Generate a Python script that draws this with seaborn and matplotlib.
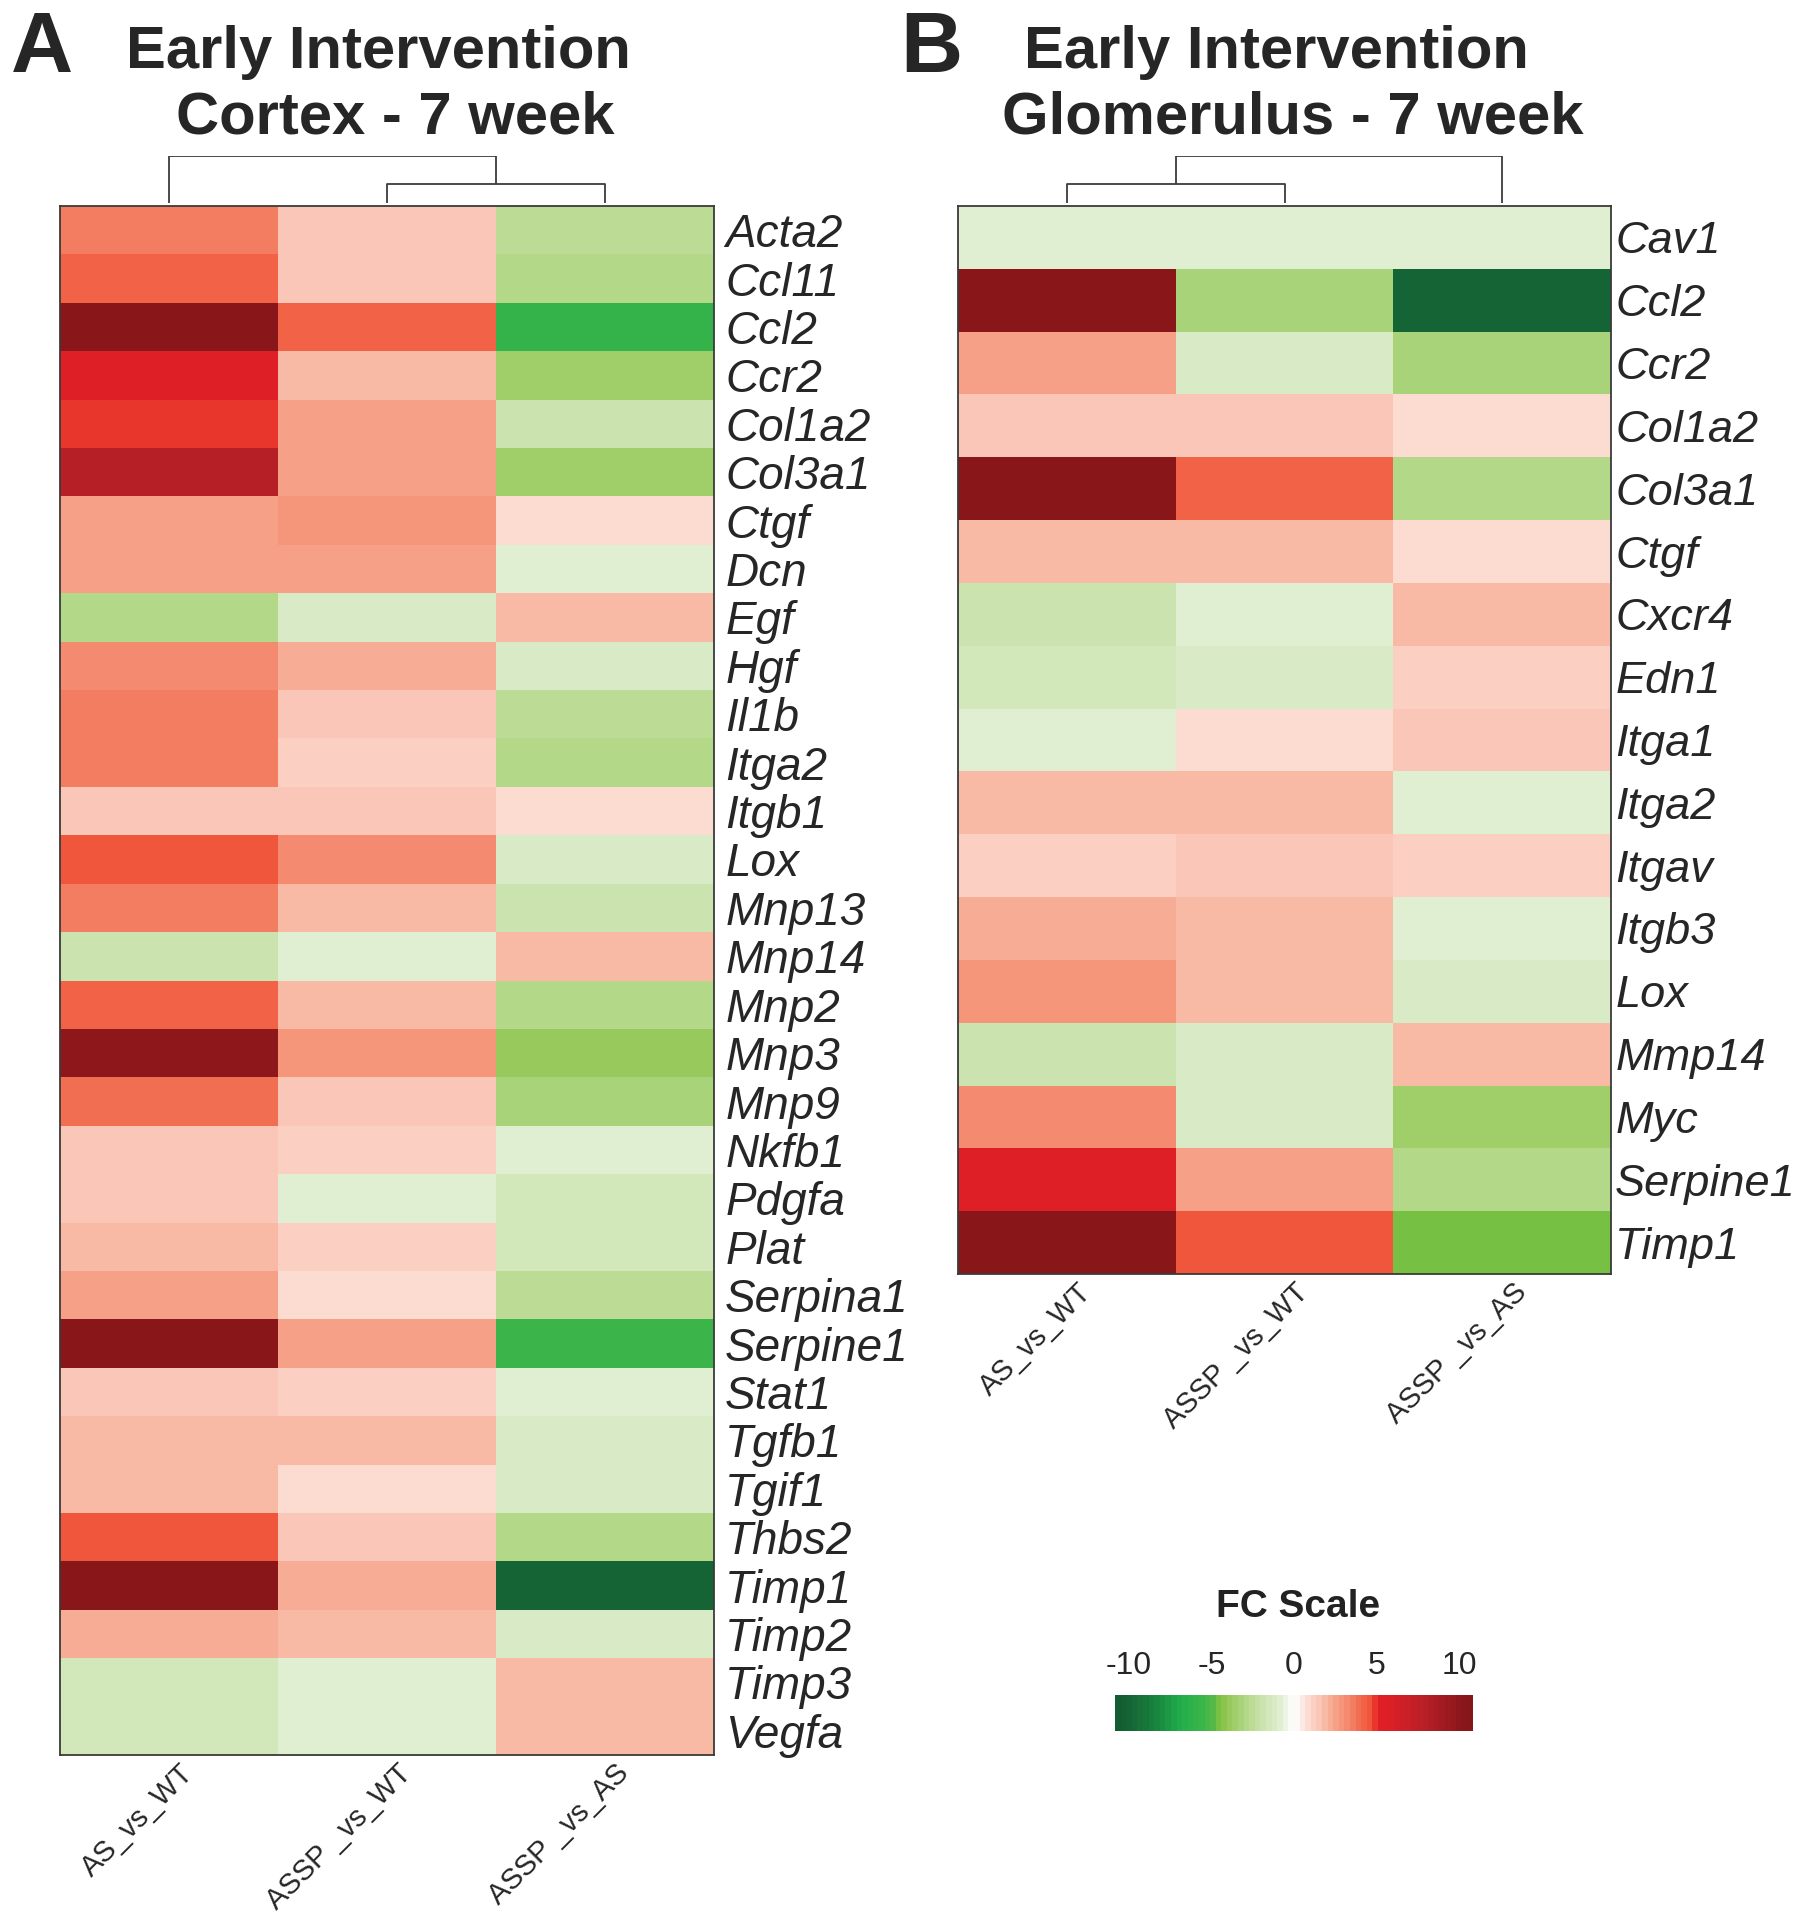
import numpy as np
import pandas as pd
import matplotlib
matplotlib.use("Agg")
import matplotlib.pyplot as plt
import matplotlib.transforms as mtransforms
from matplotlib.colors import LinearSegmentedColormap
import seaborn as sns

'''DATA'''
comparisons = ["AS_vs_WT", "ASSP _vs_WT", "ASSP _vs_AS"]

cortex_genes = ["Acta2", "Ccl11", "Ccl2", "Ccr2", "Col1a2", "Col3a1", "Ctgf", "Dcn",
                "Egf", "Hgf", "Il1b", "Itga2", "Itgb1", "Lox", "Mnp13", "Mnp14",
                "Mnp2", "Mnp3", "Mnp9", "Nkfb1", "Pdgfa", "Plat", "Serpina1",
                "Serpine1", "Stat1", "Tgfb1", "Tgif1", "Thbs2", "Timp1", "Timp2",
                "Timp3", "Vegfa"]
cortex_as_vs_wt = [3.5, 4.2, 10.5, 5.5, 4.8, 8.0, 2.5, 2.5, -3.0, 3.3, 3.7, 3.5, 1.4,
                   4.7, 3.6, -2.0, 4.3, 10.0, 3.9, 1.5, 1.5, 2.0, 2.6, 10.5, 1.5, 2.0,
                   1.9, 4.6, 10.5, 2.1, -1.6, -1.6]
cortex_assp_vs_wt = [1.5, 1.5, 4.4, 2.0, 2.4, 2.7, 2.8, 2.6, -1.3, 2.3, 1.5, 1.1, 1.5,
                     3.3, 1.8, -0.8, 1.7, 3.0, 1.4, 1.2, -0.8, 1.1, 1.0, 2.4, 1.1, 1.7,
                     1.0, 1.6, 2.1, 1.8, -0.8, -0.8]
cortex_assp_vs_as = [-2.5, -3.0, -6.0, -3.5, -2.0, -3.5, 1.0, -0.7, 2.0, -1.3, -2.5,
                     -3.0, 1.0, -1.3, -2.0, 2.0, -2.8, -4.0, -3.1, -0.9, -1.5, -1.5,
                     -2.5, -5.5, -0.9, -1.1, -1.3, -3.0, -10.0, -1.1, 1.8, 1.8]

glom_genes = ["Cav1", "Ccl2", "Ccr2", "Col1a2", "Col3a1", "Ctgf", "Cxcr4", "Edn1",
              "Itga1", "Itga2", "Itgav", "Itgb3", "Lox", "Mmp14", "Myc", "Serpine1",
              "Timp1"]
glom_as_vs_wt = [-0.8, 10.5, 2.4, 1.4, 10.5, 1.8, -2.0, -1.5, -0.8, 1.9, 1.3, 2.2,
                 2.9, -2.0, 3.3, 5.6, 10.5]
glom_assp_vs_wt = [-0.8, -3.1, -1.3, 1.6, 4.1, 1.8, -0.9, -1.1, 0.9, 1.7, 1.6, 1.9,
                   2.0, -1.1, -1.1, 2.6, 4.6]
glom_assp_vs_as = [-0.8, -10.0, -3.2, 1.0, -3.0, 1.0, 1.8, 1.3, 1.4, -0.9, 1.2, -0.9,
                   -1.3, 1.7, -3.5, -2.8, -4.5]

# column clustering (left, right, height) - scipy style ids, n leaves first
cortex_merges = [(1, 2, 0.40), (0, 3, 1.0)]
glom_merges = [(0, 1, 0.40), (3, 2, 1.0)]

fc_ticks = [-10, -5, 0, 5, 10]

cortex = pd.DataFrame({comparisons[0]: cortex_as_vs_wt,
                       comparisons[1]: cortex_assp_vs_wt,
                       comparisons[2]: cortex_assp_vs_as}, index=cortex_genes)
glom = pd.DataFrame({comparisons[0]: glom_as_vs_wt,
                     comparisons[1]: glom_assp_vs_wt,
                     comparisons[2]: glom_assp_vs_as}, index=glom_genes)

'''STYLE'''
sns.set_style("white")
plt.rcParams['font.family'] = ['Liberation Sans', 'DejaVu Sans']

VMIN, VMAX = -10.85, 10.85
nodes = [(-10.85, "#125C31"), (-10.0, "#166636"), (-8.5, "#18843F"), (-7.0, "#21AD4B"),
         (-5.6, "#3DB54A"), (-5.0, "#55B947"), (-4.5, "#84C341"), (-4.0, "#97C95A"),
         (-3.5, "#A3CF6E"), (-3.0, "#B1D785"), (-2.5, "#BEDC98"), (-2.0, "#C9E2AA"),
         (-1.3, "#D7EAC3"), (-0.8, "#E1EED3"), (0.0, "#FFFFFF"), (1.0, "#FCD5C9"),
         (1.5, "#F9C8B9"), (2.0, "#F8B5A0"), (2.5, "#F6A38A"), (3.0, "#F59479"),
         (3.5, "#F38266"), (4.0, "#F26C50"), (4.5, "#F05C3F"), (4.95, "#EE4A32"),
         (5.05, "#E31E25"), (6.0, "#DB1F26"), (8.0, "#B91F26"), (10.3, "#8B171A"),
         (10.85, "#85161A")]
fc_cmap = LinearSegmentedColormap.from_list(
    "fc", [((v - VMIN) / (VMAX - VMIN), c) for v, c in nodes], N=64)

W, H = 1798, 1920
fig = plt.figure(figsize=(W / 100, H / 100), dpi=100)


def box(x0, y0, x1, y1):
    # pixel box (top-left origin) -> figure fraction rect
    return [x0 / W, 1 - y1 / H, (x1 - x0) / W, (y1 - y0) / H]


def draw_dendrogram(ax, merges, n):
    pos = {i: i + 0.5 for i in range(n)}
    hgt = {i: 0.0 for i in range(n)}
    for k, (a, b, h) in enumerate(merges):
        ax.plot([pos[a], pos[a], pos[b], pos[b]], [hgt[a], h, h, hgt[b]],
                color="#3c3c3c", lw=1.3, solid_capstyle="butt")
        pos[n + k] = (pos[a] + pos[b]) / 2
        hgt[n + k] = h
    ax.set_xlim(0, n)
    ax.set_ylim(0, 1.0)
    ax.axis("off")


def style_heatmap(ax, ypad, ysize):
    for s in ax.spines.values():
        s.set_visible(True)
        s.set_color("#3a3a3a")
        s.set_linewidth(1.3)
    ax.set_xlabel("")
    ax.set_ylabel("")
    ax.yaxis.tick_right()
    ax.tick_params(axis="y", length=0, pad=ypad, labelsize=ysize)
    ax.tick_params(axis="x", length=0, pad=3, labelsize=21)
    for t in ax.get_yticklabels():
        t.set_rotation(0)
        t.set_fontstyle("italic")
        t.set_ha("left")
    shift = mtransforms.ScaledTranslation(0.10, 0, fig.dpi_scale_trans)
    for t in ax.get_xticklabels():
        t.set_rotation(45)
        t.set_ha("right")
        t.set_va("top")
        t.set_rotation_mode("anchor")
        t.set_transform(t.get_transform() + shift)


'''PANEL A'''
axA = fig.add_axes(box(60, 206, 714, 1755))
sns.heatmap(cortex, cmap=fc_cmap, vmin=VMIN, vmax=VMAX, cbar=False, ax=axA,
            xticklabels=comparisons, yticklabels=cortex_genes)
style_heatmap(axA, 8, 33)
dA = fig.add_axes(box(60, 156, 714, 203))
draw_dendrogram(dA, cortex_merges, 3)

'''PANEL B'''
cax = fig.add_axes(box(1115, 1695, 1473, 1731))
axB = fig.add_axes(box(958, 206, 1611, 1274))
sns.heatmap(glom, cmap=fc_cmap, vmin=VMIN, vmax=VMAX, ax=axB, cbar_ax=cax,
            cbar_kws={"orientation": "horizontal", "ticks": fc_ticks},
            xticklabels=comparisons, yticklabels=glom_genes)
style_heatmap(axB, 3, 32.5)
dB = fig.add_axes(box(958, 156, 1611, 203))
draw_dendrogram(dB, glom_merges, 3)

cbar = axB.collections[0].colorbar
cbar.outline.set_visible(False)
cax.tick_params(axis="x", top=True, bottom=True, labeltop=True, labelbottom=False,
                direction="in", length=9, width=2.2, color="white", labelsize=23, pad=10)
cax.set_xticklabels([str(t) for t in fc_ticks])
fig.text(1298 / W, 1 - 1607 / H, "FC Scale", ha="center", va="center",
         fontsize=28, fontweight="bold", color="#222222")

'''TITLES'''
fig.text(42 / W, 1 - 50 / H, "A", ha="center", va="center", fontsize=62, fontweight="bold")
fig.text(931 / W, 1 - 50 / H, "B", ha="center", va="center", fontsize=62, fontweight="bold")
fig.text(378 / W, 1 - 53 / H, "Early Intervention", ha="center", va="center",
         fontsize=43, fontweight="bold")
fig.text(395 / W, 1 - 118 / H, "Cortex - 7 week", ha="center", va="center",
         fontsize=43, fontweight="bold")
fig.text(1276 / W, 1 - 53 / H, "Early Intervention", ha="center", va="center",
         fontsize=43, fontweight="bold")
fig.text(1293 / W, 1 - 118 / H, "Glomerulus - 7 week", ha="center", va="center",
         fontsize=43, fontweight="bold")

plt.savefig("out.png", dpi=100)
